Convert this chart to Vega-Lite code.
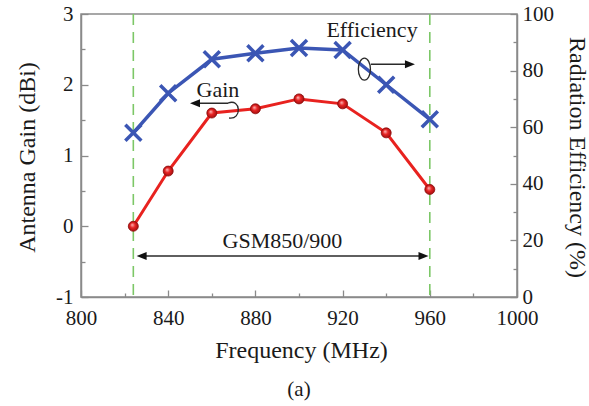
{
  "$schema": "https://vega.github.io/schema/vega-lite/v6.json",
  "width": 436,
  "height": 283,
  "autosize": {"type": "none"},
  "padding": {"left": 81, "top": 14, "right": 72, "bottom": 109},
  "background": "white",
  "title": {
    "text": "(a)",
    "orient": "bottom",
    "anchor": "middle",
    "font": "Liberation Serif",
    "fontSize": 21,
    "fontWeight": "normal",
    "color": "#1a1a1a",
    "offset": 17
  },
  "datasets": {
    "series": [
      {"freq": 824, "gain": 0.0, "eff": 58.0},
      {"freq": 840, "gain": 0.78, "eff": 72.0},
      {"freq": 860, "gain": 1.6, "eff": 84.0},
      {"freq": 880, "gain": 1.66, "eff": 86.1},
      {"freq": 900, "gain": 1.8, "eff": 88.0},
      {"freq": 920, "gain": 1.73, "eff": 87.3},
      {"freq": 940, "gain": 1.32, "eff": 75.0},
      {"freq": 960, "gain": 0.52, "eff": 62.8}
    ],
    "bandEdges": [{"freq": 824}, {"freq": 960}],
    "labels": [
      {"freq": 933.5, "level": 2.68, "text": "Efficiency"},
      {"freq": 862.8, "level": 1.83, "text": "Gain"},
      {"freq": 892.4, "level": -0.31, "text": "GSM850/900"}
    ],
    "shafts": [
      {"freq": 933.0, "freqEnd": 950.0, "level": 2.29},
      {"freq": 852.3, "freqEnd": 867.6, "level": 1.738},
      {"freq": 827.8, "freqEnd": 957.1, "level": -0.42}
    ],
    "headsRight": [
      {"freq": 950.9, "level": 2.29},
      {"freq": 957.1, "level": -0.42}
    ],
    "headsLeft": [
      {"freq": 852.3, "level": 1.738},
      {"freq": 827.8, "level": -0.42}
    ],
    "effLoop": [{"freq": 930.0, "level": 2.22}],
    "gainLoop": [{"freq": 869.3, "level": 1.657}]
  },
  "layer": [
    {
      "data": {"name": "bandEdges"},
      "mark": {"type": "rule", "color": "#7cc767", "strokeWidth": 1.6, "strokeDash": [11, 7]},
      "encoding": {
        "x": {
          "field": "freq",
          "type": "quantitative",
          "scale": {"domain": [800, 1000], "nice": false, "zero": false},
          "axis": {
            "title": "Frequency (MHz)",
            "values": [800, 810, 820, 830, 840, 850, 860, 870, 880, 890, 900, 910, 920, 930, 940, 950, 960, 970, 980, 990, 1000],
            "labelExpr": "datum.value % 40 === 0 ? toString(datum.value) : ''",
            "tickSize": {"condition": {"test": "datum.value % 40 === 0", "value": -7}, "value": -4},
            "labelPadding": 17,
            "titleX": 220,
            "titleY": 60,
            "titleBaseline": "alphabetic",
            "titleAlign": "center"
          }
        }
      }
    },
    {
      "data": {"name": "series"},
      "mark": {"type": "line", "color": "#3b56b4", "strokeWidth": 3.5},
      "encoding": {
        "x": {"field": "freq", "type": "quantitative", "scale": {"domain": [800, 1000], "nice": false, "zero": false}},
        "y": {
          "field": "eff",
          "type": "quantitative",
          "scale": {"domain": [0, 100], "nice": false, "zero": false},
          "axis": {
            "orient": "right",
            "title": "Radiation Efficiency (%)",
            "values": [0, 10, 20, 30, 40, 50, 60, 70, 80, 90, 100],
            "labelExpr": "datum.value % 20 === 0 ? toString(datum.value) : ''",
            "tickSize": {"condition": {"test": "datum.value % 20 === 0", "value": -7}, "value": -4},
            "labelPadding": 12,
            "titleAngle": 90,
            "titleX": 59,
            "titleY": 143,
            "titleBaseline": "middle",
            "titleAlign": "center"
          }
        }
      }
    },
    {
      "data": {"name": "series"},
      "mark": {
        "type": "point",
        "shape": "M-1,-1L1,1M-1,1L1,-1",
        "size": 256,
        "filled": false,
        "stroke": "#3b56b4",
        "strokeWidth": 3.5,
        "opacity": 1
      },
      "encoding": {
        "x": {"field": "freq", "type": "quantitative", "scale": {"domain": [800, 1000], "nice": false, "zero": false}},
        "y": {"field": "eff", "type": "quantitative", "scale": {"domain": [0, 100], "nice": false, "zero": false}, "axis": null}
      }
    },
    {
      "data": {"name": "series"},
      "mark": {"type": "line", "color": "#e8221f", "strokeWidth": 3},
      "encoding": {
        "x": {"field": "freq", "type": "quantitative", "scale": {"domain": [800, 1000], "nice": false, "zero": false}},
        "y": {
          "field": "gain",
          "type": "quantitative",
          "scale": {"domain": [-1, 3], "nice": false, "zero": false},
          "axis": {
            "orient": "left",
            "title": "Antenna Gain (dBi)",
            "values": [-1, -0.5, 0, 0.5, 1, 1.5, 2, 2.5, 3],
            "labelExpr": "datum.value % 1 === 0 ? toString(datum.value) : ''",
            "tickSize": {"condition": {"test": "datum.value % 1 === 0", "value": -7}, "value": -4},
            "labelPadding": 15,
            "titleAngle": -90,
            "titleX": -54,
            "titleY": 143,
            "titleBaseline": "middle",
            "titleAlign": "center"
          }
        }
      }
    },
    {
      "data": {"name": "series"},
      "mark": {
        "type": "point",
        "shape": "circle",
        "size": 100,
        "filled": true,
        "opacity": 1,
        "fill": {
          "gradient": "radial",
          "x1": 0.38, "y1": 0.35, "r1": 0,
          "x2": 0.5, "y2": 0.5, "r2": 0.55,
          "stops": [
            {"offset": 0, "color": "#ffc2c2"},
            {"offset": 0.45, "color": "#e82424"},
            {"offset": 1, "color": "#9a0c0c"}
          ]
        },
        "stroke": "#8c0a0a",
        "strokeWidth": 0.8
      },
      "encoding": {
        "x": {"field": "freq", "type": "quantitative", "scale": {"domain": [800, 1000], "nice": false, "zero": false}},
        "y": {"field": "gain", "type": "quantitative", "scale": {"domain": [-1, 3], "nice": false, "zero": false}, "axis": null}
      }
    },
    {
      "data": {"name": "shafts"},
      "mark": {"type": "rule", "color": "#2a2a2a", "strokeWidth": 1.4},
      "encoding": {
        "x": {"field": "freq", "type": "quantitative", "scale": {"domain": [800, 1000], "nice": false, "zero": false}},
        "x2": {"field": "freqEnd"},
        "y": {"field": "level", "type": "quantitative", "scale": {"domain": [-1, 3], "nice": false, "zero": false}, "axis": null}
      }
    },
    {
      "data": {"name": "headsRight"},
      "mark": {"type": "point", "shape": "M1,0L-1,-0.8L-1,0.8Z", "size": 100, "filled": true, "color": "#111111", "opacity": 1},
      "encoding": {
        "x": {"field": "freq", "type": "quantitative", "scale": {"domain": [800, 1000], "nice": false, "zero": false}},
        "y": {"field": "level", "type": "quantitative", "scale": {"domain": [-1, 3], "nice": false, "zero": false}, "axis": null}
      }
    },
    {
      "data": {"name": "headsLeft"},
      "mark": {"type": "point", "shape": "M-1,0L1,-0.8L1,0.8Z", "size": 100, "filled": true, "color": "#111111", "opacity": 1},
      "encoding": {
        "x": {"field": "freq", "type": "quantitative", "scale": {"domain": [800, 1000], "nice": false, "zero": false}},
        "y": {"field": "level", "type": "quantitative", "scale": {"domain": [-1, 3], "nice": false, "zero": false}, "axis": null}
      }
    },
    {
      "data": {"name": "effLoop"},
      "mark": {
        "type": "point",
        "shape": "M0,-1A0.55,1 0 1,1 0,1A0.55,1 0 1,1 0,-1",
        "size": 484,
        "filled": false,
        "stroke": "#2a2a2a",
        "strokeWidth": 1.3,
        "opacity": 1
      },
      "encoding": {
        "x": {"field": "freq", "type": "quantitative", "scale": {"domain": [800, 1000], "nice": false, "zero": false}},
        "y": {"field": "level", "type": "quantitative", "scale": {"domain": [-1, 3], "nice": false, "zero": false}, "axis": null}
      }
    },
    {
      "data": {"name": "gainLoop"},
      "mark": {
        "type": "point",
        "shape": "M-0.4,-0.6C0.9,-1.1 1.0,1.1 -0.3,0.9",
        "size": 400,
        "filled": false,
        "stroke": "#2a2a2a",
        "strokeWidth": 1.3,
        "opacity": 1
      },
      "encoding": {
        "x": {"field": "freq", "type": "quantitative", "scale": {"domain": [800, 1000], "nice": false, "zero": false}},
        "y": {"field": "level", "type": "quantitative", "scale": {"domain": [-1, 3], "nice": false, "zero": false}, "axis": null}
      }
    },
    {
      "data": {"name": "labels"},
      "mark": {"type": "text", "font": "Liberation Serif", "fontSize": 22, "color": "#1a1a1a", "align": "center", "baseline": "alphabetic"},
      "encoding": {
        "x": {"field": "freq", "type": "quantitative", "scale": {"domain": [800, 1000], "nice": false, "zero": false}},
        "y": {"field": "level", "type": "quantitative", "scale": {"domain": [-1, 3], "nice": false, "zero": false}, "axis": null},
        "text": {"field": "text"}
      }
    }
  ],
  "resolve": {"scale": {"y": "independent"}},
  "config": {
    "font": "Liberation Serif",
    "view": {"stroke": "#8a8a8a", "strokeWidth": 1.5},
    "axis": {
      "domainColor": "#8a8a8a",
      "domainWidth": 1.5,
      "tickColor": "#8a8a8a",
      "tickWidth": 1.3,
      "labelFont": "Liberation Serif",
      "labelFontSize": 21,
      "labelColor": "#1a1a1a",
      "titleFont": "Liberation Serif",
      "titleFontSize": 24,
      "titleFontWeight": "normal",
      "titleColor": "#1a1a1a",
      "grid": false,
      "labelOverlap": false,
      "labelFlush": false
    }
  }
}
